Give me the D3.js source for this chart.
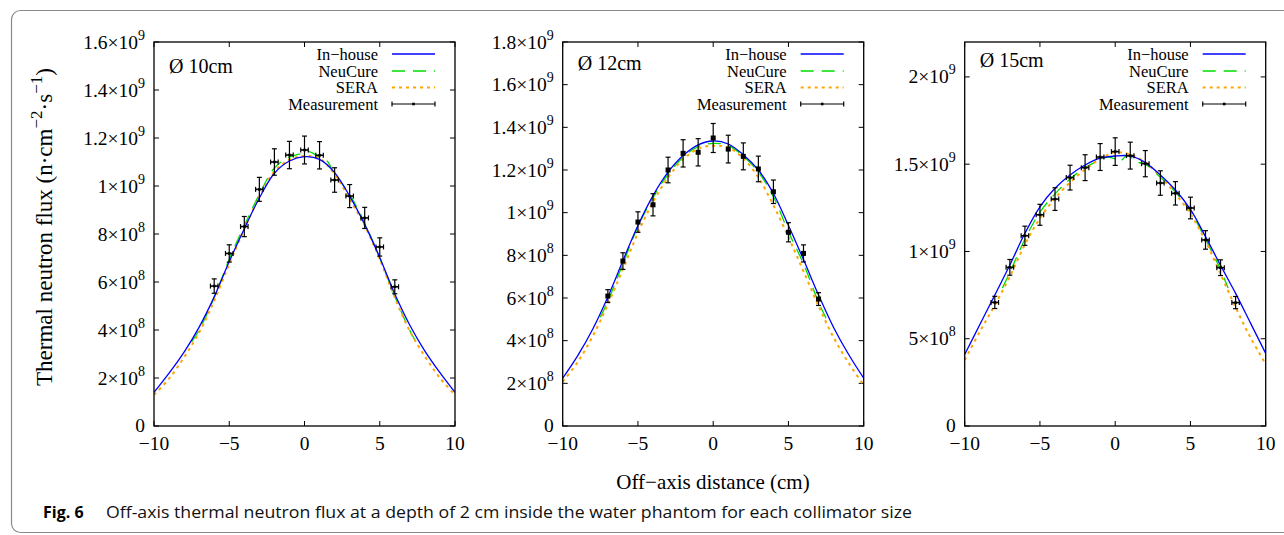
<!DOCTYPE html>
<html><head><meta charset="utf-8">
<script src="https://cdn.jsdelivr.net/npm/d3@7"></script>
<style>body{margin:0;background:#fff;} svg{display:block;}</style>
</head><body><svg id="c" width="1284" height="535"></svg>
<script>
// ---------- data ----------
const gridX = [-10,-9,-8,-7,-6,-5,-4,-3,-2,-1,0,1,2,3,4,5,6,7,8,9,10];
const xTickValues = [-10,-5,0,5,10];
const xTickLabels = ["\u221210","\u22125","0","5","10"];
const panelNames = ["\u00D8 10cm","\u00D8 12cm","\u00D8 15cm"];
const seriesNames = ["In\u2212house","NeuCure","SERA","Measurement"];
const yMax = [1.6e9, 1.8e9, 2.2e9];

const yTickValues1 = [0,2e8,4e8,6e8,8e8,1e9,1.2e9,1.4e9,1.6e9];
const yTickLabels1 = ["0","2\u00D710^8","4\u00D710^8","6\u00D710^8","8\u00D710^8","1\u00D710^9","1.2\u00D710^9","1.4\u00D710^9","1.6\u00D710^9"];
const yTickValues2 = [0,2e8,4e8,6e8,8e8,1e9,1.2e9,1.4e9,1.6e9,1.8e9];
const yTickLabels2 = ["0","2\u00D710^8","4\u00D710^8","6\u00D710^8","8\u00D710^8","1\u00D710^9","1.2\u00D710^9","1.4\u00D710^9","1.6\u00D710^9","1.8\u00D710^9"];
const yTickValues3 = [0,5e8,1e9,1.5e9,2e9];
const yTickLabels3 = ["0","5\u00D710^8","1\u00D710^9","1.5\u00D710^9","2\u00D710^9"];

// Ø 10cm
const inhouse1 = [1.40e8,2.20e8,3.08e8,4.12e8,5.38e8,6.85e8,8.22e8,9.50e8,1.053e9,1.104e9,1.122e9,1.111e9,1.056e9,9.58e8,8.40e8,7.02e8,5.50e8,4.20e8,3.12e8,2.22e8,1.40e8];
const sera1 = [1.30e8,1.97e8,2.87e8,3.90e8,5.22e8,6.75e8,8.20e8,9.55e8,1.060e9,1.110e9,1.125e9,1.115e9,1.050e9,9.45e8,8.35e8,6.95e8,5.35e8,3.95e8,2.90e8,2.00e8,1.30e8];
const neuX1 = [-7.5,-7,-6,-5,-4,-3,-2,-1,0,0.3,1,1.5,2,3,4,5,6,7,7.5];
const neu1 = [3.5e8,4.0e8,5.35e8,6.95e8,8.35e8,9.65e8,1.075e9,1.12e9,1.138e9,1.143e9,1.12e9,1.104e9,1.05e9,9.65e8,8.45e8,7.0e8,5.4e8,3.98e8,3.4e8];
const measX1 = [-6,-5,-4,-3,-2,-1,0,1,2,3,4,5,6];
const meas1 = [5.83e8,7.19e8,8.31e8,9.86e8,1.10e9,1.129e9,1.15e9,1.128e9,1.025e9,9.58e8,8.67e8,7.46e8,5.80e8];
const err1 = [3.0e7,3.6e7,4.2e7,5.0e7,5.5e7,5.7e7,5.8e7,5.7e7,5.1e7,4.8e7,4.4e7,3.8e7,2.9e7];

// Ø 12cm
const inhouse2 = [2.24e8,3.30e8,4.55e8,6.05e8,7.75e8,9.40e8,1.080e9,1.190e9,1.268e9,1.318e9,1.336e9,1.322e9,1.272e9,1.200e9,1.090e9,9.40e8,7.80e8,6.14e8,4.62e8,3.35e8,2.24e8];
const sera2 = [2.08e8,3.00e8,4.22e8,5.70e8,7.35e8,9.05e8,1.050e9,1.165e9,1.250e9,1.300e9,1.314e9,1.305e9,1.255e9,1.165e9,1.035e9,8.85e8,7.25e8,5.62e8,4.15e8,2.95e8,1.92e8];
const neuX2 = [-7.5,-7,-6,-5,-4,-3,-2,-1,0,1,2,3,4,5,6,7,7.5];
const neu2 = [5.1e8,5.85e8,7.6e8,9.35e8,1.07e9,1.18e9,1.26e9,1.31e9,1.325e9,1.315e9,1.265e9,1.19e9,1.075e9,9.1e8,7.6e8,5.8e8,5.05e8];
const measX2 = [-7,-6,-5,-4,-3,-2,-1,0,1,2,3,4,5,6,7];
const meas2 = [6.09e8,7.73e8,9.56e8,1.037e9,1.20e9,1.278e9,1.283e9,1.35e9,1.298e9,1.264e9,1.205e9,1.098e9,9.08e8,8.09e8,5.95e8];
const err2 = [3.0e7,3.9e7,4.8e7,5.2e7,6.0e7,6.4e7,6.4e7,6.8e7,6.5e7,6.3e7,6.0e7,5.5e7,4.5e7,4.0e7,3.0e7];

// Ø 15cm
const inhouse3 = [4.10e8,5.80e8,7.50e8,9.22e8,1.104e9,1.256e9,1.362e9,1.438e9,1.495e9,1.534e9,1.547e9,1.547e9,1.509e9,1.438e9,1.352e9,1.241e9,1.085e9,9.20e8,7.60e8,5.88e8,4.16e8];
const sera3 = [3.78e8,5.40e8,6.93e8,8.56e8,1.040e9,1.190e9,1.305e9,1.395e9,1.470e9,1.530e9,1.568e9,1.555e9,1.510e9,1.430e9,1.330e9,1.215e9,1.060e9,8.70e8,6.80e8,5.05e8,3.55e8];
const neuX3 = [-7.5,-7,-6,-5,-4,-3,-2,-1,-0.5,0,0.3,0.7,1,1.3,2,3,4,5,6,7,7.5];
const neu3 = [7.9e8,8.8e8,1.07e9,1.225e9,1.33e9,1.415e9,1.48e9,1.525e9,1.54e9,1.53e9,1.515e9,1.545e9,1.545e9,1.515e9,1.5e9,1.425e9,1.34e9,1.23e9,1.07e9,8.95e8,7.9e8];
const measX3 = [-8,-7,-6,-5,-4,-3,-2,-1,0,1,2,3,4,5,6,7,8];
const meas3 = [7.08e8,9.09e8,1.09e9,1.21e9,1.30e9,1.423e9,1.48e9,1.541e9,1.572e9,1.549e9,1.503e9,1.392e9,1.333e9,1.249e9,1.066e9,9.07e8,7.07e8];
const err3 = [3.5e7,4.5e7,5.5e7,6.0e7,6.5e7,7.1e7,7.4e7,7.7e7,7.9e7,7.7e7,7.5e7,7.0e7,6.7e7,6.2e7,5.3e7,4.5e7,3.5e7];
const xErr = 0.25;

// ---------- drawing ----------
const svg = d3.select("#c");
const SERIF = "'Liberation Serif','Times New Roman',serif";
const COL_BLUE = "#0000ff", COL_GREEN = "#00dd00", COL_ORANGE = "#ffa500";
const GREEN_DASH = "13,8", ORANGE_DASH = "3,4";

svg.append("rect").attr("x",11.5).attr("y",10.5).attr("width",1320).attr("height",522)
  .attr("rx",9).attr("fill","none").attr("stroke","#8a8a8a").attr("stroke-width",1.2);

const panels = [
  {left:154, right:455, yTicks:yTickValues1, yLabels:yTickLabels1, inh:inhouse1, sera:sera1, neuX:neuX1, neu:neu1, mx:measX1, m:meas1, e:err1, xbars:true, labelY:73},
  {left:562.7, right:863.7, yTicks:yTickValues2, yLabels:yTickLabels2, inh:inhouse2, sera:sera2, neuX:neuX2, neu:neu2, mx:measX2, m:meas2, e:err2, xbars:false, labelY:70},
  {left:964.7, right:1265.7, yTicks:yTickValues3, yLabels:yTickLabels3, inh:inhouse3, sera:sera3, neuX:neuX3, neu:neu3, mx:measX3, m:meas3, e:err3, xbars:true, labelY:67}
];
const TOP = 42, BOTTOM = 426;

function supLabel(sel, str, supSize, rise){
  const parts = str.split("^");
  sel.append("tspan").text(parts[0]);
  if(parts.length>1){
    sel.append("tspan").attr("dy",-rise).attr("font-size",supSize).text(parts[1]);
  }
}

panels.forEach((p,i)=>{
  const x = d3.scaleLinear().domain([-10,10]).range([p.left,p.right]);
  const y = d3.scaleLinear().domain([0,yMax[i]]).range([BOTTOM,TOP]);
  const g = svg.append("g");
  const clipId = "clip"+i;
  svg.append("clipPath").attr("id",clipId).append("rect")
    .attr("x",p.left).attr("y",TOP).attr("width",p.right-p.left).attr("height",BOTTOM-TOP);

  // ticks (inward, mirrored)
  p.yTicks.forEach(v=>{
    g.append("line").attr("x1",p.left).attr("x2",p.left+5).attr("y1",y(v)).attr("y2",y(v)).attr("stroke","#000").attr("stroke-width",1);
    g.append("line").attr("x1",p.right).attr("x2",p.right-5).attr("y1",y(v)).attr("y2",y(v)).attr("stroke","#000").attr("stroke-width",1);
  });
  xTickValues.forEach(v=>{
    g.append("line").attr("x1",x(v)).attr("x2",x(v)).attr("y1",BOTTOM).attr("y2",BOTTOM-5).attr("stroke","#000").attr("stroke-width",1);
    g.append("line").attr("x1",x(v)).attr("x2",x(v)).attr("y1",TOP).attr("y2",TOP+5).attr("stroke","#000").attr("stroke-width",1);
  });
  // y tick labels
  p.yTicks.forEach((v,k)=>{
    const t = g.append("text").attr("x",p.left-9).attr("y",y(v)+6.5 - (v===0?1:0))
      .attr("text-anchor","end").attr("font-family",SERIF).attr("font-size",19.5).attr("fill","#000");
    supLabel(t, p.yLabels[k], 14, 9);
  });
  // x tick labels
  xTickValues.forEach((v,k)=>{
    g.append("text").attr("x",x(v)).attr("y",450).attr("text-anchor","middle")
      .attr("font-family",SERIF).attr("font-size",19.5).attr("fill","#000").text(xTickLabels[k]);
  });

  const line = (xs, ys) => d3.line().x((d,j)=>x(xs[j])).y(d=>y(d)).curve(d3.curveCatmullRom.alpha(0.5))(ys);
  const cg = g.append("g").attr("clip-path",`url(#${clipId})`);
  cg.append("path").attr("d",line(p.neuX,p.neu)).attr("fill","none").attr("stroke",COL_GREEN).attr("stroke-width",1.3).attr("stroke-dasharray",GREEN_DASH);
  cg.append("path").attr("d",line(gridX,p.sera)).attr("fill","none").attr("stroke",COL_ORANGE).attr("stroke-width",2).attr("stroke-dasharray",ORANGE_DASH);
  cg.append("path").attr("d",line(gridX,p.inh)).attr("fill","none").attr("stroke",COL_BLUE).attr("stroke-width",1.3);

  // measurements
  const mg = g.append("g").attr("stroke","#000").attr("stroke-width",1.2);
  p.m.forEach((v,j)=>{
    const cx = x(p.mx[j]), cy = y(v), y1 = y(v - p.e[j]), y2 = y(v + p.e[j]);
    mg.append("line").attr("x1",cx).attr("x2",cx).attr("y1",y1).attr("y2",y2);
    mg.append("line").attr("x1",cx-2.5).attr("x2",cx+2.5).attr("y1",y1).attr("y2",y1);
    mg.append("line").attr("x1",cx-2.5).attr("x2",cx+2.5).attr("y1",y2).attr("y2",y2);
    if(p.xbars){
      const xa = x(p.mx[j]-xErr), xb = x(p.mx[j]+xErr);
      mg.append("line").attr("x1",xa).attr("x2",xb).attr("y1",cy).attr("y2",cy).attr("stroke-width",1.6);
      mg.append("line").attr("x1",xa).attr("x2",xa).attr("y1",cy-2.5).attr("y2",cy+2.5);
      mg.append("line").attr("x1",xb).attr("x2",xb).attr("y1",cy-2.5).attr("y2",cy+2.5);
      g.append("rect").attr("x",cx-1.3).attr("y",cy-1.3).attr("width",2.6).attr("height",2.6).attr("fill","#000");
    } else {
      g.append("rect").attr("x",cx-2.5).attr("y",cy-2.5).attr("width",5).attr("height",5).attr("fill","#000");
    }
  });

  // frame
  g.append("rect").attr("x",p.left).attr("y",TOP).attr("width",p.right-p.left).attr("height",BOTTOM-TOP)
    .attr("fill","none").attr("stroke","#000").attr("stroke-width",1.3);

  // panel label
  g.append("text").attr("x",p.left+15).attr("y",p.labelY).attr("font-family",SERIF).attr("font-size",20)
    .attr("fill","#000").text(panelNames[i]);

  // legend
  const lx1 = p.right-63, lx2 = p.right-20, tx = p.right-77;
  const rows = [54,71,87.5,104];
  rows.forEach((ry,k)=>{
    g.append("text").attr("x",tx).attr("y",ry+5.5).attr("text-anchor","end").attr("font-family",SERIF)
      .attr("font-size",16.5).attr("fill","#000").text(seriesNames[k]);
  });
  g.append("line").attr("x1",lx1).attr("x2",lx2).attr("y1",rows[0]).attr("y2",rows[0]).attr("stroke",COL_BLUE).attr("stroke-width",1.3);
  g.append("line").attr("x1",lx1).attr("x2",lx2).attr("y1",rows[1]).attr("y2",rows[1]).attr("stroke",COL_GREEN).attr("stroke-width",1.3).attr("stroke-dasharray",GREEN_DASH);
  g.append("line").attr("x1",lx1).attr("x2",lx2).attr("y1",rows[2]).attr("y2",rows[2]).attr("stroke",COL_ORANGE).attr("stroke-width",2).attr("stroke-dasharray",ORANGE_DASH);
  const lm = g.append("g").attr("stroke","#000").attr("stroke-width",1.2);
  lm.append("line").attr("x1",lx1).attr("x2",lx2).attr("y1",rows[3]).attr("y2",rows[3]);
  lm.append("line").attr("x1",lx1).attr("x2",lx1).attr("y1",rows[3]-2.5).attr("y2",rows[3]+2.5);
  lm.append("line").attr("x1",lx2).attr("x2",lx2).attr("y1",rows[3]-2.5).attr("y2",rows[3]+2.5);
  g.append("rect").attr("x",(lx1+lx2)/2-1.3).attr("y",rows[3]-1.3).attr("width",2.6).attr("height",2.6).attr("fill","#000");
});

// y axis title
const yt = svg.append("text").attr("transform","translate(52,227) rotate(-90)").attr("text-anchor","middle")
  .attr("font-family",SERIF).attr("font-size",23).attr("fill","#000");
yt.append("tspan").text("Thermal neutron flux (n\u00B7cm");
yt.append("tspan").attr("dy",-10).attr("font-size",17).text("\u22122");
yt.append("tspan").attr("dy",10).text("\u00B7s");
yt.append("tspan").attr("dy",-10).attr("font-size",17).text("\u22121");
yt.append("tspan").attr("dy",10).text(")");

// x axis title
svg.append("text").attr("x",713).attr("y",489).attr("text-anchor","middle")
  .attr("font-family",SERIF).attr("font-size",21).attr("fill","#000").text("Off\u2212axis distance (cm)");

// caption
svg.append("text").attr("x",43).attr("y",518).attr("font-family","'Open Sans',sans-serif").attr("font-weight","bold")
  .attr("font-size",16).attr("fill","#000").text("Fig. 6");
svg.append("text").attr("x",106).attr("y",518).attr("font-family","'Open Sans',sans-serif")
  .attr("font-size",16).attr("fill","#111").attr("textLength",806).attr("lengthAdjust","spacingAndGlyphs")
  .text("Off-axis thermal neutron flux at a depth of 2 cm inside the water phantom for each collimator size");
</script></body></html>
